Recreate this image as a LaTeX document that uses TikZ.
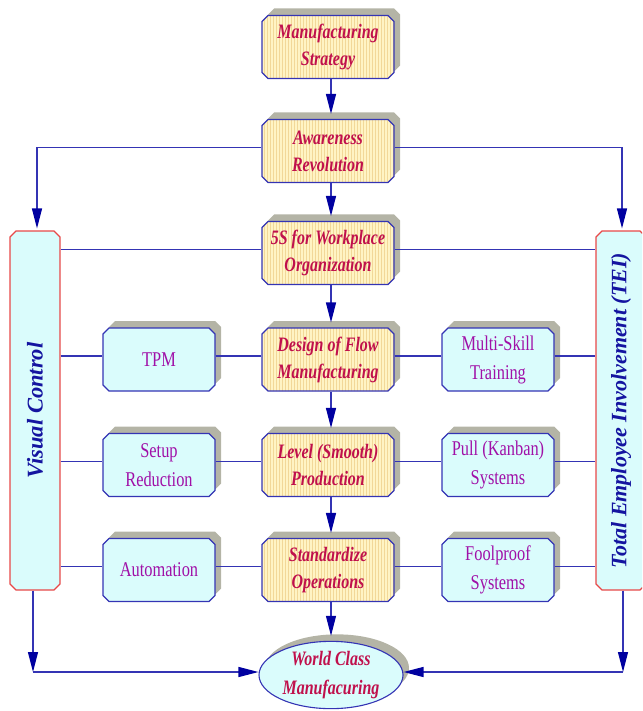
\documentclass[tikz,border=0pt]{standalone}
\usepackage{fontspec}
\usepackage{graphicx}
\setmainfont{Liberation Serif}
\newfontfamily\corefont[FakeStretch=0.78]{Liberation Serif}
\newfontfamily\sidefont[FakeStretch=0.78]{Liberation Serif}
\usetikzlibrary{shapes.misc,shapes.geometric,shadows,patterns,arrows.meta}

\definecolor{linec}{HTML}{3434B4}
\definecolor{arrowc}{HTML}{0000A0}
\definecolor{shadowc}{HTML}{B4B4A6}
\definecolor{corefill}{HTML}{FFF4C4}
\definecolor{corestripe}{HTML}{F2D898}
\definecolor{coretext}{HTML}{C0104C}
\definecolor{sidefill}{HTML}{DAFCFC}
\definecolor{sidetext}{HTML}{A010A8}
\definecolor{redc}{HTML}{E84848}
\definecolor{vtext}{HTML}{1414A0}

\tikzset{
  base/.style={chamfered rectangle, chamfered rectangle xsep=3pt,
    chamfered rectangle ysep=3pt, inner sep=0pt, draw=linec,
    line width=1.1pt, align=center},
  shade/.style={general shadow={fill=shadowc, shadow xshift=6pt, shadow yshift=7pt}},
  core/.style={base, shade, minimum width=132pt, minimum height=63pt,
    preaction={fill=corefill}, pattern=vertical lines, pattern color=corestripe,
    text=coretext, font=\corefont\bfseries\itshape\fontsize{20.5}{27}\selectfont},
  side/.style={base, shade, minimum width=112pt, minimum height=63pt,
    fill=sidefill, text=sidetext, font=\sidefont\fontsize{21}{29}\selectfont},
  vert/.style={base, draw=redc, minimum width=50pt, minimum height=359pt,
    fill=sidefill, text=vtext, font=\bfseries\itshape\fontsize{22.5}{26}\selectfont},
  goal/.style={ellipse, shade, draw=linec, line width=1.1pt, fill=sidefill,
    minimum width=144pt, minimum height=66pt, inner sep=0pt, align=center,
    text=coretext, font=\corefont\bfseries\itshape\fontsize{20.5}{29}\selectfont},
  link/.style={draw=linec, line width=1.2pt},
  arr/.style={link, -{Triangle[length=20pt, width=10pt, color=arrowc]}}
}

\begin{document}
\begin{tikzpicture}[x=1pt, y=-1pt]
  \path[use as bounding box] (0,0) rectangle (642,711);
  \clip (0,0) rectangle (642,711);

  % central chain
  \node[core] (strat)  at (328,47)    {Manufacturing\\Strategy};
  \node[core] (aware)  at (328,151)   {Awareness\\Revolution};
  \node[core] (five)   at (328,253)   {5S for Workplace\\Organization};
  \node[core] (design) at (328,359.5) {Design of Flow\\Manufacturing};
  \node[core] (level)  at (328,465)   {Level (Smooth)\\Production};
  \node[core] (stand)  at (328,570)   {Standardize\\Operations};
  \node[goal] (wcm)    at (331,675)   {World Class\\Manufacuring};

  % side practices
  \node[side] (tpm)   at (159,359.5) {TPM};
  \node[side] (multi) at (498,359.5) {Multi-Skill\\Training};
  \node[side] (setup) at (159,465)   {Setup\\Reduction};
  \node[side] (pull)  at (498,465)   {Pull (Kanban)\\Systems};
  \node[side] (auto)  at (159,570)   {Automation};
  \node[side] (fool)  at (498,570)   {Foolproof\\Systems};

  % vertical pillars
  \node[vert] (vc)  at (35,410.5)  {\rotatebox{90}{Visual Control}};
  \node[vert, font=\bfseries\itshape\fontsize{22}{26}\selectfont]
       (tei) at (621,410.5) {\rotatebox{90}{Total Employee Involvement (TEI)}};

  % connection points (centre of box plus shadow)
  \foreach \n in {aware,five,design,level,stand,tpm,multi,setup,pull,auto,fool}{
    \coordinate (\n W) at ([yshift=3.5pt]\n.west);
    \coordinate (\n E) at ([yshift=3.5pt]\n.east);
  }
  \foreach \a/\b in {strat/aware,aware/five,five/design,design/level,level/stand}{
    \draw[arr] ([xshift=3pt]\a.south) -- ([xshift=3pt,yshift=5pt]\b.north);
  }
  \draw[arr] ([xshift=3pt]stand.south) -- ([yshift=5pt]wcm.north);

  % awareness feeds both pillars
  \draw[arr] (awareW) -| ([xshift=2pt,yshift=2pt]vc.north);
  \draw[arr] (awareE) -| ([xshift=1pt,yshift=2pt]tei.north);

  % rows
  \draw[link] (vc.east |- fiveW) -- (fiveW);
  \draw[link] (fiveE) -- (tei.west |- fiveE);
  \foreach \l/\c/\r in {tpm/design/multi, setup/level/pull, auto/stand/fool}{
    \draw[link] (vc.east |- \l W) -- (\l W);
    \draw[link] (\l E) -- (\c W);
    \draw[link] (\c E) -- (\r W);
    \draw[link] (\r E) -- (tei.west |- \r E);
  }

  % pillars into the goal
  \coordinate (bl) at (33,672);
  \coordinate (br) at (623,672);
  \draw[arr] (vc.south -| bl) -- (bl);
  \draw[arr] (bl) -- (wcm.west |- bl);
  \draw[arr] (tei.south -| br) -- (br);
  \draw[arr] (br) -- (wcm.east |- br);
\end{tikzpicture}
\end{document}
